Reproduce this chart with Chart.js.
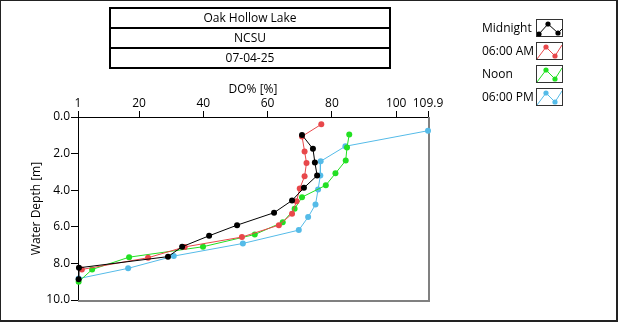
<!DOCTYPE html>
<html>
<head>
<meta charset="utf-8">
<script src="https://cdn.jsdelivr.net/npm/chart.js@4.4.1/dist/chart.umd.min.js"></script>
<style>
  html, body { margin: 0; padding: 0; background: #fff; }
  body { width: 620px; height: 324px; position: relative; overflow: hidden; font-family: "Open Sans", sans-serif; color: #000; }
  #frame { position: absolute; left: 0; top: 0; width: 618px; height: 322px; box-sizing: border-box; border: 1px solid #222; border-right-width: 2px; border-bottom-width: 2px; pointer-events: none; }
  #plot { position: absolute; left: 0; top: 0; }
  #header { position: absolute; left: 109px; top: 7px; width: 282px; border-collapse: collapse; }
  #header td { border: 2px solid #000; height: 18px; padding: 0; text-align: center; font-size: 12px; line-height: 18px; }
  .lg-label { position: absolute; left: 482px; font-size: 12px; line-height: 16px; }
  .lg-icon { position: absolute; left: 536px; width: 27px; height: 18px; box-sizing: border-box; border: 1px solid #333; background: #fff; }
</style>
</head>
<body>
<canvas id="plot" width="620" height="324"></canvas>
<table id="header">
  <tr><td>Oak Hollow Lake</td></tr>
  <tr><td>NCSU</td></tr>
  <tr><td>07-04-25</td></tr>
</table>
<div id="legend"></div>
<div id="frame"></div>
<script>
// DO% profiles at four times of day, depth in metres
const seriesNames = ["Midnight", "06:00 AM", "Noon", "06:00 PM"];
const seriesColors = ["#000000", "#e8474a", "#22e022", "#55bbe8"];

const midnightDO = [70.7, 74.1, 74.7, 75.4, 71.3, 67.6, 62.0, 50.5, 41.8, 33.4, 29.0, 1.3, 1.2];
const midnightDepth = [0.98, 1.74, 2.48, 3.20, 3.87, 4.56, 5.23, 5.91, 6.49, 7.09, 7.63, 8.24, 8.87];

const morningDO = [76.7, 70.7, 71.5, 72.1, 71.5, 70.0, 69.0, 67.6, 63.5, 52.0, 34.2, 22.8, 2.2];
const morningDepth = [0.40, 1.06, 1.88, 2.51, 3.24, 3.91, 4.60, 5.29, 5.91, 6.56, 7.10, 7.69, 8.33];

const noonDO = [85.4, 84.7, 84.3, 81.1, 78.1, 70.7, 68.4, 64.7, 56.0, 39.9, 16.9, 5.4, 1.2];
const noonDepth = [0.95, 1.66, 2.38, 3.08, 3.73, 4.38, 5.02, 5.75, 6.42, 7.09, 7.66, 8.33, 9.00];

const eveningDO = [109.9, 84.2, 76.5, 76.4, 75.7, 74.9, 72.6, 69.7, 52.3, 30.8, 16.6, 1.2];
const eveningDepth = [0.75, 1.60, 2.42, 3.20, 3.96, 4.78, 5.47, 6.18, 6.91, 7.60, 8.27, 8.83];

const doTicks = [1, 20, 40, 60, 80, 100, 109.9];
const depthTicks = [0, 2, 4, 6, 8, 10];

const profiles = [
  [midnightDO, midnightDepth],
  [morningDO, morningDepth],
  [noonDO, noonDepth],
  [eveningDO, eveningDepth]
];

const datasets = profiles.map(([xs, ys], i) => ({
  label: seriesNames[i],
  data: xs.map((x, k) => ({ x: x, y: ys[k] })),
  showLine: true,
  borderColor: seriesColors[i],
  backgroundColor: seriesColors[i],
  borderWidth: 1,
  pointRadius: 3,
  pointBorderWidth: 0,
  clip: false
}));

// gray right and bottom edges of the plot box
const boxEdges = {
  id: "boxEdges",
  beforeDatasetsDraw(chart) {
    const a = chart.chartArea;
    const ctx = chart.ctx;
    ctx.save();
    ctx.strokeStyle = "#808080";
    ctx.lineWidth = 2;
    ctx.beginPath();
    ctx.moveTo(a.right + 1, a.top);
    ctx.lineTo(a.right + 1, a.bottom + 1);
    ctx.lineTo(a.left, a.bottom + 1);
    ctx.stroke();
    ctx.restore();
  }
};

Chart.defaults.font.family = "'Open Sans', sans-serif";
Chart.defaults.color = "#000";

new Chart(document.getElementById("plot"), {
  type: "scatter",
  data: { datasets },
  plugins: [boxEdges],
  options: {
    responsive: false,
    animation: false,
    layout: { padding: { left: 25, top: 78, right: 192, bottom: 24 } },
    plugins: {
      legend: { display: false },
      tooltip: { enabled: false }
    },
    scales: {
      x: {
        type: "linear",
        position: "top",
        min: 1,
        max: 109.9,
        afterBuildTicks: s => { s.ticks = doTicks.map(v => ({ value: v })); },
        afterFit: s => { s.height = 39; },
        ticks: { font: { size: 12 }, padding: 0, maxRotation: 0, autoSkip: false, callback: v => String(v) },
        grid: { drawOnChartArea: false, tickLength: 6, tickColor: "#000" },
        border: { color: "#000", width: 1 },
        title: { display: true, text: "DO% [%]", font: { size: 12 }, padding: { top: 4, bottom: 0 } }
      },
      y: {
        type: "linear",
        reverse: true,
        min: 0,
        max: 10,
        afterBuildTicks: s => { s.ticks = depthTicks.map(v => ({ value: v })); },
        afterFit: s => { s.width = 53; },
        ticks: { font: { size: 12 }, padding: 1, autoSkip: false, callback: v => v.toFixed(1) },
        grid: { drawOnChartArea: false, tickLength: 7, tickColor: "#000" },
        border: { color: "#000", width: 1 },
        title: { display: true, text: "Water Depth [m]", font: { size: 12 }, padding: { top: 4, bottom: 0 } }
      }
    }
  }
});

// legend: label plus a small zigzag sample per series
const legend = document.getElementById("legend");
seriesNames.forEach((name, i) => {
  const top = 19 + i * 23;
  const label = document.createElement("div");
  label.className = "lg-label";
  label.style.top = (top + 1) + "px";
  label.textContent = name;
  legend.appendChild(label);

  const c = seriesColors[i];
  const pts = i === 0
    ? [[2, 13], [11, 3], [21, 12]]
    : [[9, 3], [18, 12]];
  const path = i === 0
    ? "0,15 2,13 11,3 21,12 25,8"
    : "0,15 9,3 18,12 25,1";
  const dots = pts.map(p => `<circle cx="${p[0]}" cy="${p[1]}" r="2.6" fill="${c}"/>`).join("");
  const icon = document.createElement("div");
  icon.className = "lg-icon";
  icon.style.top = top + "px";
  icon.innerHTML = `<svg width="25" height="16" viewBox="0 0 25 16"><polyline points="${path}" fill="none" stroke="${c}" stroke-width="1"/>${dots}</svg>`;
  legend.appendChild(icon);
});
</script>
</body>
</html>
